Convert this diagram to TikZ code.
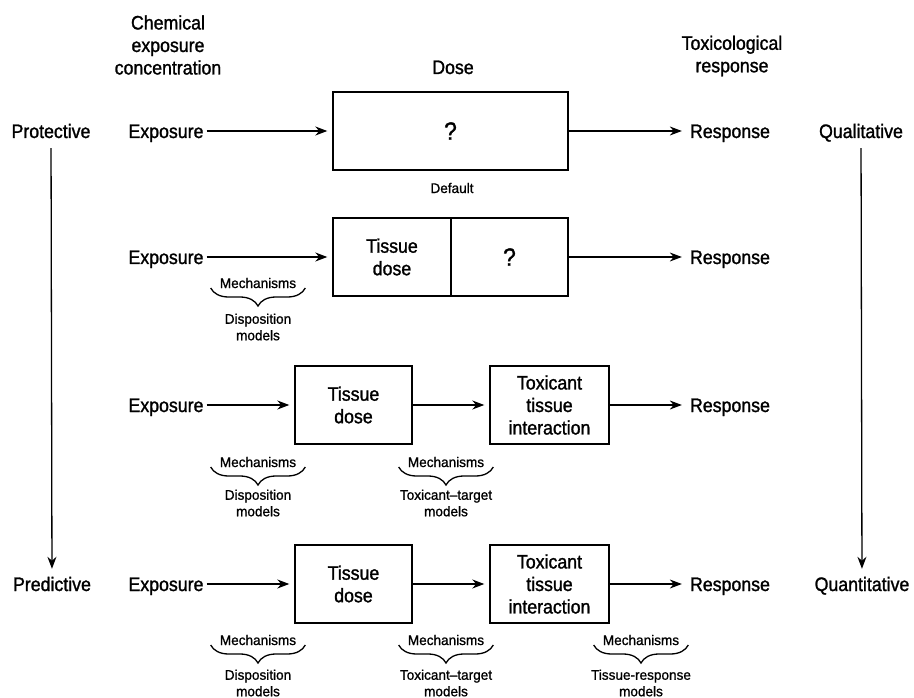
\documentclass[tikz,border=0pt]{standalone}
\usepackage{fontspec}
\setmainfont{Liberation Sans}[FakeStretch=0.91, FakeBold=1.3]
\newfontfamily\notefont{Liberation Sans}[FakeStretch=0.97, FakeBold=1]
\usetikzlibrary{arrows.meta, decorations.pathreplacing}
\newcommand{\bigtxt}{\fontsize{19.5pt}{22.5pt}\selectfont}
\newcommand{\notetxt}{\notefont\fontsize{14pt}{16.5pt}\selectfont}
\newcommand{\qtxt}{\fontsize{25pt}{28pt}\selectfont}
\tikzstyle{arrow} = [-{Stealth[length=12pt, width=9pt]}, line width=1.3pt, shorten >=5pt]

\begin{document}
\begin{tikzpicture}[x=1pt, y=-1pt,
    stage/.style={rectangle, draw, line width=1.4pt, minimum width=117pt, minimum height=78pt,
      align=center, font=\bigtxt, inner sep=0pt},
    lbl/.style={font=\bigtxt, text height=14pt, text depth=0pt, inner sep=3pt},
    hdr/.style={font=\bigtxt, align=center},
    note/.style={font=\notetxt, align=center, inner sep=3pt},
    brc/.style={decorate, decoration={brace, mirror, amplitude=18pt}, line width=1.3pt}
  ]
    \useasboundingbox (0,0) rectangle (914,698);

    \node[hdr] (hchem) at (168,45) {Chemical\\exposure\\concentration};
    \node[lbl] (hdose) at (453,67) {Dose};
    \node[hdr] (hresp) at (732,56) {Toxicological\\response};

    \node[lbl] (prot) at (51,131) {Protective};
    \node[lbl] (pred) at (52,584) {Predictive};
    \node[lbl] (qual) at (861,131) {Qualitative};
    \node[lbl] (quant) at (862,584) {Quantitative};

    % default
    \node[lbl] (exp1) at (166,131) {Exposure};
    \node[stage, minimum width=235pt, font=\qtxt] (box1) at (450.5,131) {?};
    \node[lbl] (resp1) at (730,131) {Response};
    \node[note] (dflt) at (452,188) {Default};

    % tissue dose only
    \node[lbl] (exp2) at (166,257) {Exposure};
    \node[stage, minimum width=118pt] (tdose2) at (392,257) {Tissue\\dose};
    \node[stage, font=\qtxt] (unk2) at (509.5,257) {?};
    \node[lbl] (resp2) at (730,257) {Response};
    \node[note] (mech2) at (258,283) {Mechanisms};
    \node[note] (disp2) at (258,327) {Disposition\\models};

    % tissue dose + interaction
    \node[lbl] (exp3) at (166,405) {Exposure};
    \node[stage] (tdose3) at (353.5,405) {Tissue\\dose};
    \node[stage, minimum width=119pt] (tox3) at (549.5,405) {Toxicant\\tissue\\interaction};
    \node[lbl] (resp3) at (730,405) {Response};
    \node[note] (mech3a) at (258,462) {Mechanisms};
    \node[note] (disp3) at (258,503) {Disposition\\models};
    \node[note] (mech3b) at (446,462) {Mechanisms};
    \node[note] (tt3) at (446,503) {Toxicant–target\\models};

    % full model
    \node[lbl] (exp4) at (166,584) {Exposure};
    \node[stage] (tdose4) at (353.5,584) {Tissue\\dose};
    \node[stage, minimum width=119pt] (tox4) at (549.5,584) {Toxicant\\tissue\\interaction};
    \node[lbl] (resp4) at (730,584) {Response};
    \node[note] (mech4a) at (258,640) {Mechanisms};
    \node[note] (disp4) at (258,683) {Disposition\\models};
    \node[note] (mech4b) at (446,640) {Mechanisms};
    \node[note] (tt4) at (446,683) {Toxicant–target\\models};
    \node[note] (mech4c) at (641,640) {Mechanisms};
    \node[note] (tr4) at (641,683) {Tissue-response\\models};

    \draw[arrow, shorten <=7pt] (prot) -- (pred);
    \draw[arrow, shorten <=7pt] (qual) -- (quant);

    \draw[arrow] (exp1) -- (box1);
    \draw[arrow] (box1) -- (resp1);
    \draw[arrow] (exp2) -- (tdose2);
    \draw[arrow] (unk2) -- (resp2);
    \draw[arrow] (exp3) -- (tdose3);
    \draw[arrow] (tdose3) -- (tox3);
    \draw[arrow] (tox3) -- (resp3);
    \draw[arrow] (exp4) -- (tdose4);
    \draw[arrow] (tdose4) -- (tox4);
    \draw[arrow] (tox4) -- (resp4);

    \draw[brc] ([xshift=-6pt]mech2.base west) -- ([xshift=6pt]mech2.base east);
    \draw[brc] ([xshift=-6pt]mech3a.base west) -- ([xshift=6pt]mech3a.base east);
    \draw[brc] ([xshift=-6pt]mech3b.base west) -- ([xshift=6pt]mech3b.base east);
    \draw[brc] ([xshift=-6pt]mech4a.base west) -- ([xshift=6pt]mech4a.base east);
    \draw[brc] ([xshift=-6pt]mech4b.base west) -- ([xshift=6pt]mech4b.base east);
    \draw[brc] ([xshift=-6pt]mech4c.base west) -- ([xshift=6pt]mech4c.base east);
  \end{tikzpicture}
\end{document}
